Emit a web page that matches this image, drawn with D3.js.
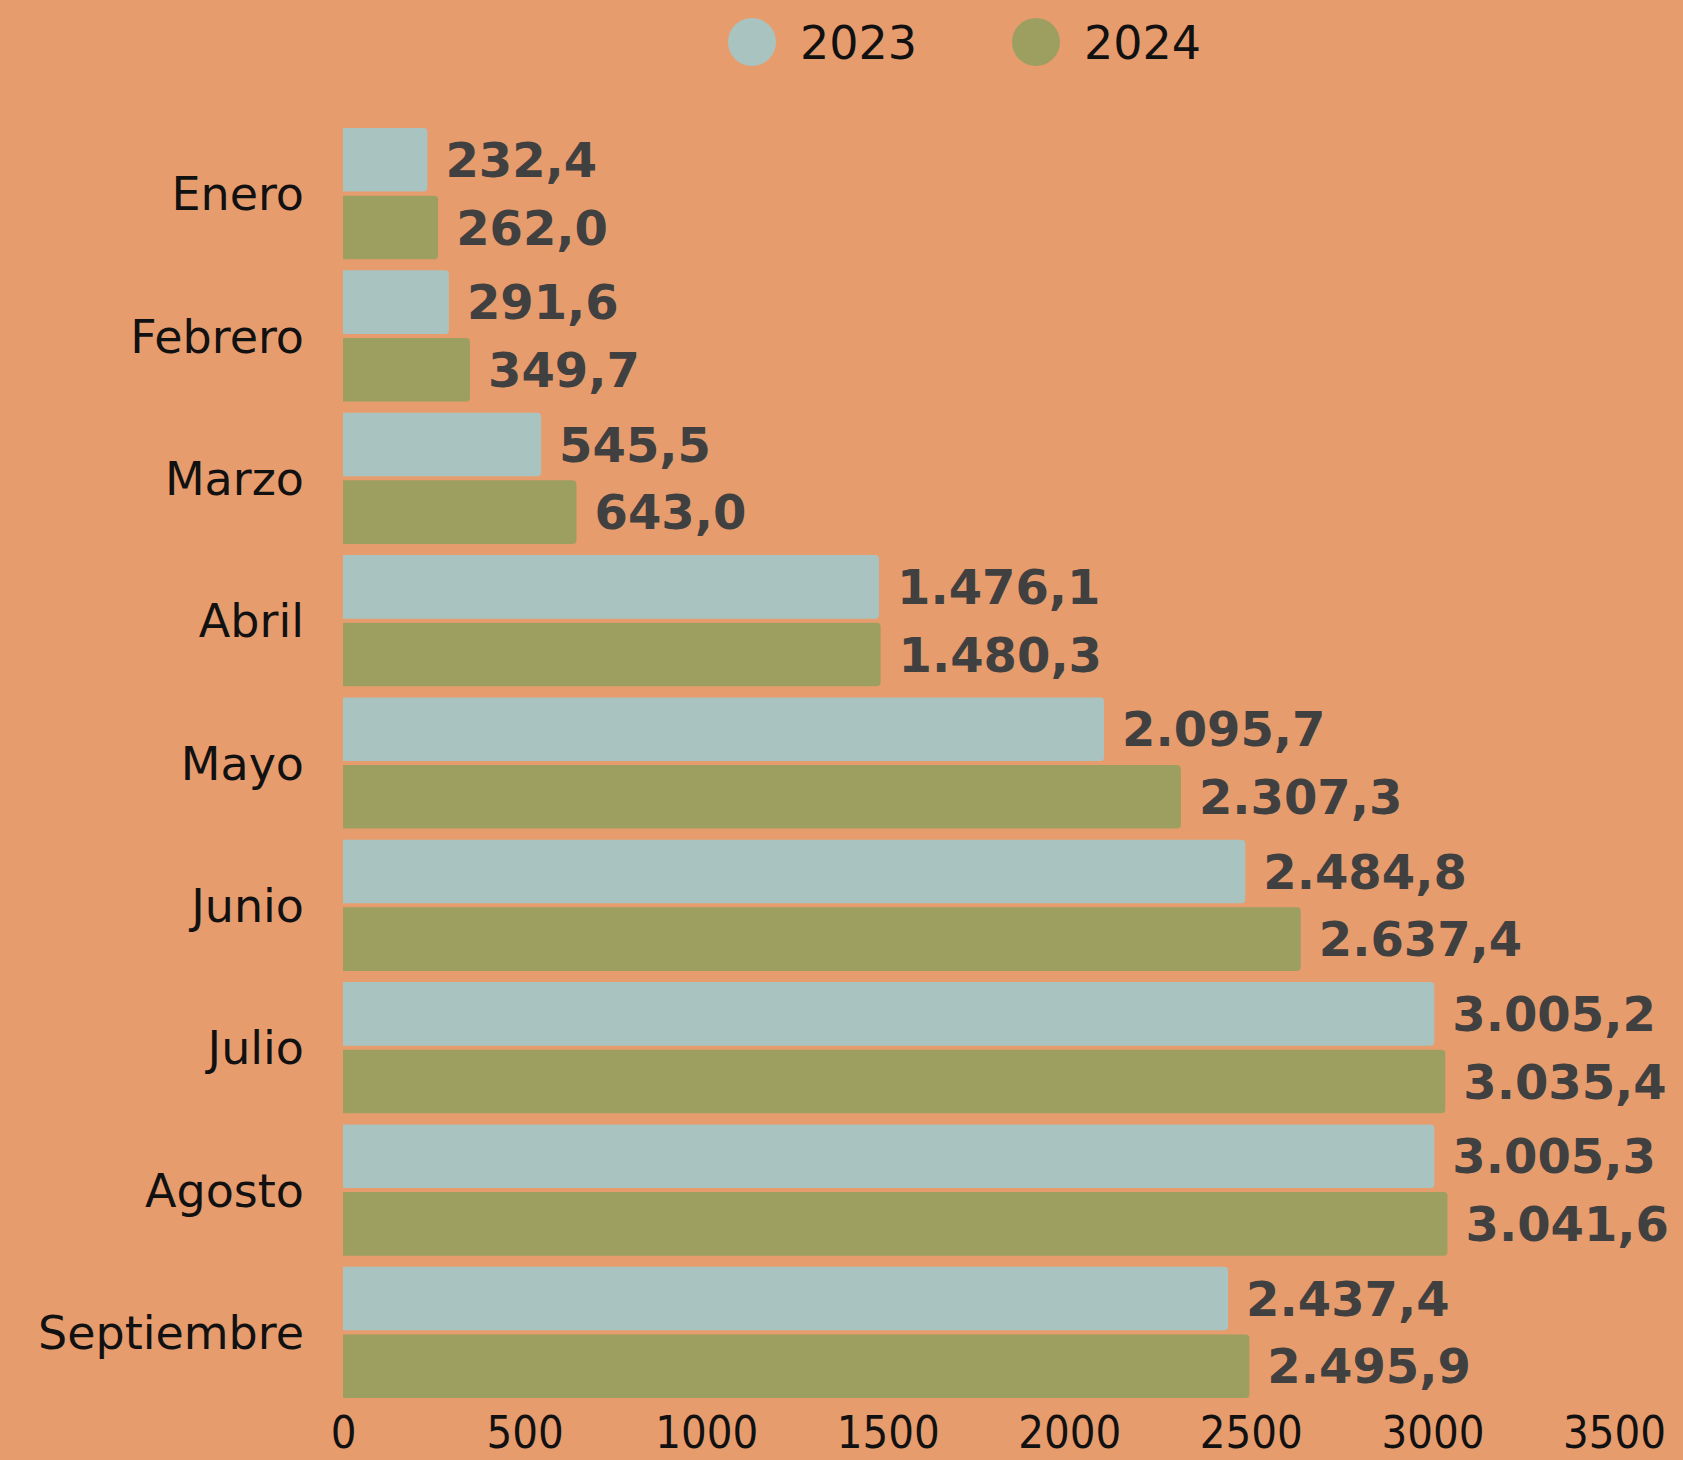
<!DOCTYPE html>
<html>
<head>
<meta charset="utf-8">
<style>
  html, body { margin: 0; padding: 0; background: #E79C6E; }
  svg { display: block; }
  .cat { font-family: "DejaVu Sans", sans-serif; font-size: 46px; fill: #111; }
  .val { font-family: "DejaVu Sans", sans-serif; font-weight: bold; font-size: 48px; fill: #404040; }
  .tick text { font-family: "DejaVu Sans Condensed", "DejaVu Sans", sans-serif; font-size: 45px; fill: #111; }
  .legend text { font-family: "DejaVu Sans", sans-serif; font-size: 46px; fill: #111; }
</style>
</head>
<body>
<svg id="chart" width="1683" height="1460"></svg>
<script src="https://cdn.jsdelivr.net/npm/d3@7"></script>
<script>
// data
var months = ["Enero", "Febrero", "Marzo", "Abril", "Mayo", "Junio", "Julio", "Agosto", "Septiembre"];
var years = ["2023", "2024"];
var values2023 = [232.4, 291.6, 545.5, 1476.1, 2095.7, 2484.8, 3005.2, 3005.3, 2437.4];
var values2024 = [262.0, 349.7, 643.0, 1480.3, 2307.3, 2637.4, 3035.4, 3041.6, 2495.9];
var xTicks = [0, 500, 1000, 1500, 2000, 2500, 3000, 3500];
var colors = ["#A9C4C0", "#9D9F61"];

var svg = d3.select("#chart");

var rows = months.map(function (m, i) {
    return { month: m, values: [
        { year: years[0], value: values2023[i] },
        { year: years[1], value: values2024[i] }
    ] };
});

var x = d3.scaleLinear().domain([0, 3500]).range([343, 1614]);
var y0 = d3.scaleBand().domain(months).range([128, 1398]).paddingInner(0.078).paddingOuter(0);
var y1 = d3.scaleBand().domain(years).range([0, y0.bandwidth()]).paddingInner(0.06);
var color = d3.scaleOrdinal().domain(years).range(colors);

var es = d3.formatLocale({ decimal: ",", thousands: ".", grouping: [3], currency: ["", ""] });
var fmt = es.format(",.1f");

// rect with only the right corners rounded
function barPath(x0, yy, w, h, r) {
    r = Math.min(r, w / 2, h / 2);
    return "M" + x0 + "," + yy +
        "H" + (x0 + w - r) +
        "Q" + (x0 + w) + "," + yy + " " + (x0 + w) + "," + (yy + r) +
        "V" + (yy + h - r) +
        "Q" + (x0 + w) + "," + (yy + h) + " " + (x0 + w - r) + "," + (yy + h) +
        "H" + x0 + "Z";
}

var group = svg.selectAll(".month")
    .data(rows)
    .enter().append("g")
    .attr("class", "month")
    .attr("transform", function (d) { return "translate(0," + y0(d.month) + ")"; });

group.selectAll("path")
    .data(function (d) { return d.values; })
    .enter().append("path")
    .attr("d", function (d) {
        return barPath(x(0), y1(d.year), x(d.value) - x(0), y1.bandwidth(), 4);
    })
    .attr("fill", function (d) { return color(d.year); });

group.selectAll(".val")
    .data(function (d) { return d.values; })
    .enter().append("text")
    .attr("class", "val")
    .attr("x", function (d) { return x(d.value) + 18; })
    .attr("y", function (d) { return y1(d.year) + y1.bandwidth() / 2; })
    .attr("dy", "0.36em")
    .text(function (d) { return fmt(d.value); });

// category labels
svg.append("g").selectAll(".cat")
    .data(months)
    .enter().append("text")
    .attr("class", "cat")
    .attr("x", 304)
    .attr("y", function (d) { return y0(d) + y0.bandwidth() / 2; })
    .attr("dy", "0.36em")
    .attr("text-anchor", "end")
    .text(function (d) { return d; });

// x axis, labels only
var xAxis = svg.append("g")
    .attr("transform", "translate(0,1416)")
    .call(d3.axisBottom(x).tickValues(xTicks).tickSize(0).tickPadding(0).tickFormat(d3.format("d")));
xAxis.select(".domain").remove();
xAxis.selectAll("text").attr("dy", "0.71em");

// legend
var legend = svg.append("g").attr("class", "legend");
var legendX = [752, 1036];
years.forEach(function (yr, i) {
    legend.append("circle")
        .attr("cx", legendX[i]).attr("cy", 42).attr("r", 24)
        .attr("fill", color(yr));
    legend.append("text")
        .attr("x", legendX[i] + 48).attr("y", 42)
        .attr("dy", "0.36em")
        .text(yr);
});
</script>
</body>
</html>
